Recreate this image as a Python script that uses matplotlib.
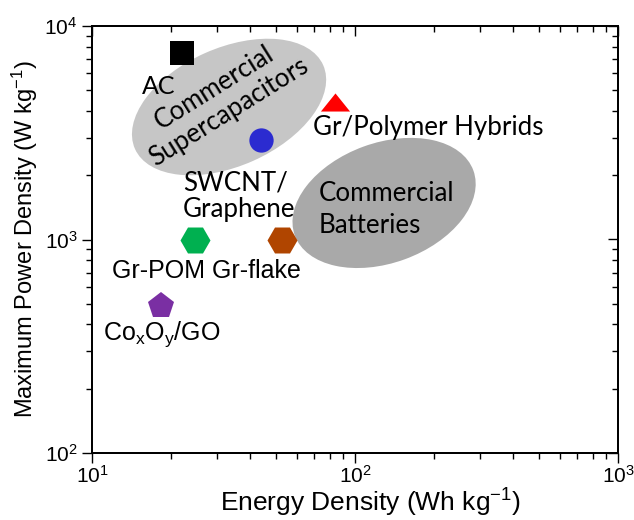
import numpy as np
import matplotlib
matplotlib.use('Agg')
import matplotlib.pyplot as plt
import matplotlib.transforms as mtransforms
from matplotlib.patches import Ellipse
from matplotlib.ticker import LogLocator, LogFormatterMathtext, NullFormatter

plt.rcParams['font.family'] = ['Liberation Sans', 'DejaVu Sans']
plt.rcParams['mathtext.default'] = 'regular'

# data (Wh/kg, W/kg)
names = ['AC', 'Gr/Polymer Hybrids', 'SWCNT/Graphene', 'Gr-POM', 'Gr-flake', 'CoxOy/GO']
energy = [21.9, 84.0, 44.0, 24.6, 53.0, 18.3]
power = [7450, 4400, 2920, 1000, 1000, 490]
colors = ['#000000', '#ff0000', '#2b2bd0', '#00b050', '#b04500', '#7a2fa3']

# regions (centre in data units)
region_names = ['Commercial\nSupercapacitors', 'Commercial\nBatteries']
region_centre = [(33.2, 4175), (129.0, 1483)]

fig = plt.figure(figsize=(6.34, 5.20), dpi=100)
ax = fig.add_axes([92 / 634, 1 - 453 / 520, 526 / 634, 427 / 520])
ax.set_xscale('log')
ax.set_yscale('log')
ax.set_xlim(10, 1000)
ax.set_ylim(100, 10000)

# ellipses, size in inches, angle in degrees
ell_size = [(2.06, 1.18, 24.0), (1.90, 1.20, 20.0)]
ell_color = ['#c6c6c6', '#a9a9a9']
for (cx, cy), (w, h, ang), c in zip(region_centre, ell_size, ell_color):
    tr = fig.dpi_scale_trans + mtransforms.ScaledTranslation(cx, cy, ax.transData)
    ax.add_patch(Ellipse((0, 0), w, h, angle=ang, facecolor=c, edgecolor='none',
                         transform=tr, zorder=1))

# markers
tri = [(-1, -0.62), (1, -0.62), (0, 0.62)]
markers = ['s', tri, 'o', 'H', 'H', 'p']
sizes = [17, 21, 17.5, 21.6, 21.6, 20]
for x, y, c, m, s in zip(energy, power, colors, markers, sizes):
    ax.plot(x, y, marker=m, color=c, markersize=s, markeredgewidth=0,
            linestyle='none', zorder=3)

cal = ['Lato', 'DejaVu Sans']
fs = 18.6
ax.text(18.0, 5180, 'AC', fontsize=18, family=cal, ha='center', va='center', zorder=4)
ax.text(31.2, 4500, region_names[0], fontsize=fs, family=cal, ha='center', va='center',
        rotation=32, rotation_mode='anchor', multialignment='center', linespacing=1.15, zorder=4)
ax.text(22.2, 1598, 'SWCNT/\nGraphene', fontsize=fs, family=cal, ha='left', va='center',
        linespacing=1.1, zorder=4)
ax.text(69.2, 3087, 'Gr/Polymer Hybrids', fontsize=fs, family=cal, ha='left',
        va='baseline', zorder=4)
ax.text(73.0, 1380, region_names[1], fontsize=fs, family=cal, ha='left', va='center',
        linespacing=1.32, zorder=4)
ax.text(11.9, 660, 'Gr-POM Gr-flake', fontsize=18, ha='left', va='baseline', zorder=4)
ax.text(11.0, 338, r'Co$_{x}$O$_{y}$/GO', fontsize=18, ha='left', va='baseline', zorder=4)

ax.set_xlabel(r'Energy Density (Wh kg$^{-1}$)', fontsize=19)
ax.set_ylabel(r'Maximum Power Density (W kg$^{-1}$)', fontsize=17)
ax.xaxis.set_label_coords(0.53, -0.078)
ax.yaxis.set_label_coords(-0.099, 0.502)

ax.xaxis.set_major_locator(LogLocator(base=10))
ax.yaxis.set_major_locator(LogLocator(base=10))
ax.xaxis.set_major_formatter(LogFormatterMathtext())
ax.yaxis.set_major_formatter(LogFormatterMathtext())
ax.xaxis.set_minor_locator(LogLocator(base=10, subs=np.arange(2, 10)))
ax.yaxis.set_minor_locator(LogLocator(base=10, subs=np.arange(2, 10)))
ax.xaxis.set_minor_formatter(NullFormatter())
ax.yaxis.set_minor_formatter(NullFormatter())
ax.tick_params(which='both', direction='out', top=False, right=False, labelsize=15, width=1)
ax.tick_params(which='major', length=7)
ax.tick_params(which='minor', length=4)
ax.tick_params(axis='x', pad=1.5)

# top and right ticks point inward
axt = ax.twiny()
axt.set_xscale('log')
axt.set_xlim(ax.get_xlim())
axt.tick_params(which='both', direction='in', labeltop=False, width=1)
axt.tick_params(which='major', length=7)
axt.tick_params(which='minor', length=4)
axr = ax.twinx()
axr.set_yscale('log')
axr.set_ylim(ax.get_ylim())
axr.tick_params(which='both', direction='in', labelright=False, width=1)
axr.tick_params(which='major', length=7)
axr.tick_params(which='minor', length=4)
for a in [ax, axt, axr]:
    for sp in a.spines.values():
        sp.set_linewidth(1.2)

fig.savefig('out.png', dpi=100)
